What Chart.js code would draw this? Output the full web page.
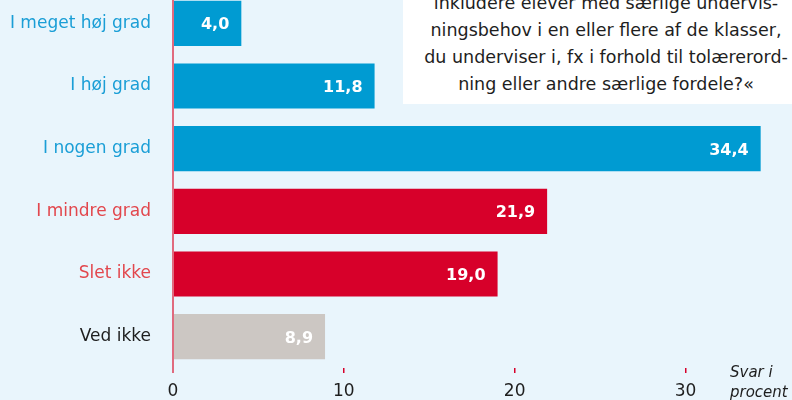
<!DOCTYPE html>
<html><head><meta charset="utf-8">
<script src="https://cdn.jsdelivr.net/npm/chart.js@4"></script>
<style>
html,body{margin:0;padding:0;background:#e9f5fc;}
#page{position:relative;width:792px;height:400px;overflow:hidden;background:#e9f5fc;font-family:"DejaVu Sans", sans-serif;}
#wrap{position:absolute;left:0;top:-20px;width:792px;height:440px;}
#box{position:absolute;left:403px;top:0;width:400px;height:104px;background:#fff;overflow:hidden;}
#boxtext{position:absolute;left:0;top:-10.5px;width:406px;text-align:center;font-size:17.5px;line-height:27px;color:#1e1e1e;white-space:nowrap;}
#unit{position:absolute;left:730px;top:363px;font-style:italic;font-size:15px;line-height:19.5px;color:#1e1e1e;white-space:nowrap;}
</style></head>
<body>
<div id="page">
  <div id="wrap"><canvas id="c" width="792" height="440"></canvas></div>
  <div id="box"><div id="boxtext">inkludere elever med særlige undervis-<br>ningsbehov i en eller flere af de klasser,<br>du underviser i, fx i forhold til tolærerord-<br>ning eller andre særlige fordele?«</div></div>
  <div id="unit">Svar i<br>procent</div>
</div>
<script>
const categories = ["I meget høj grad", "I høj grad", "I nogen grad", "I mindre grad", "Slet ikke", "Ved ikke"];
const values = [4.0, 11.8, 34.4, 21.9, 19.0, 8.9];
const xTicks = [0, 10, 20, 30];

const FONT = '"DejaVu Sans", sans-serif';
const BLUE = '#009bd2', RED = '#d7002a', GREY = '#ccc7c3';
const barColors = [BLUE, BLUE, BLUE, RED, RED, GREY];
const labelColors = ['#1a9ed6', '#1a9ed6', '#1a9ed6', '#e2474d', '#e2474d', '#1e1e1e'];

const valueLabels = {
  id: 'valueLabels',
  afterDatasetsDraw(chart) {
    const ctx = chart.ctx;
    const meta = chart.getDatasetMeta(0);
    ctx.save();
    ctx.font = 'bold 16px ' + FONT;
    ctx.fillStyle = '#ffffff';
    ctx.textAlign = 'right';
    ctx.textBaseline = 'middle';
    meta.data.forEach((bar, i) => {
      ctx.fillText(values[i].toFixed(1).replace('.', ','), bar.x - 12, bar.y + 2);
    });
    ctx.restore();
  }
};

new Chart(document.getElementById('c'), {
  type: 'bar',
  data: {
    labels: categories,
    datasets: [{
      data: values,
      backgroundColor: barColors,
      borderWidth: 0,
      barPercentage: 0.72,
      categoryPercentage: 1
    }]
  },
  options: {
    indexAxis: 'y',
    responsive: false,
    animation: false,
    devicePixelRatio: 1,
    layout: { padding: { top: 12, right: 4, left: 0, bottom: 0 } },
    plugins: { legend: { display: false }, tooltip: { enabled: false } },
    scales: {
      x: {
        min: 0, max: 36,
        afterBuildTicks: s => { s.ticks = xTicks.map(v => ({ value: v })); },
        afterFit: s => { s.height = 52; s.paddingLeft = 0; s.paddingRight = 0; },
        grid: {
          drawOnChartArea: false, drawTicks: true, tickLength: 5,
          color: c => (c.tick && c.tick.value === 0) ? '#e06a7e' : RED,
          lineWidth: c => (c.tick && c.tick.value === 0) ? 2 : 1.5
        },
        border: { display: false },
        ticks: { color: '#1e1e1e', font: { family: FONT, size: 17 }, padding: 8, maxRotation: 0 }
      },
      y: {
        afterFit: s => { s.width = 173; s.paddingTop = 0; s.paddingBottom = 0; },
        grid: { drawOnChartArea: false, drawTicks: false },
        border: { display: true, color: '#e06a7e', width: 2 },
        ticks: { padding: 22, color: c => labelColors[c.index], font: { family: FONT, size: 17 } }
      }
    }
  },
  plugins: [valueLabels]
});
</script>
</body></html>
